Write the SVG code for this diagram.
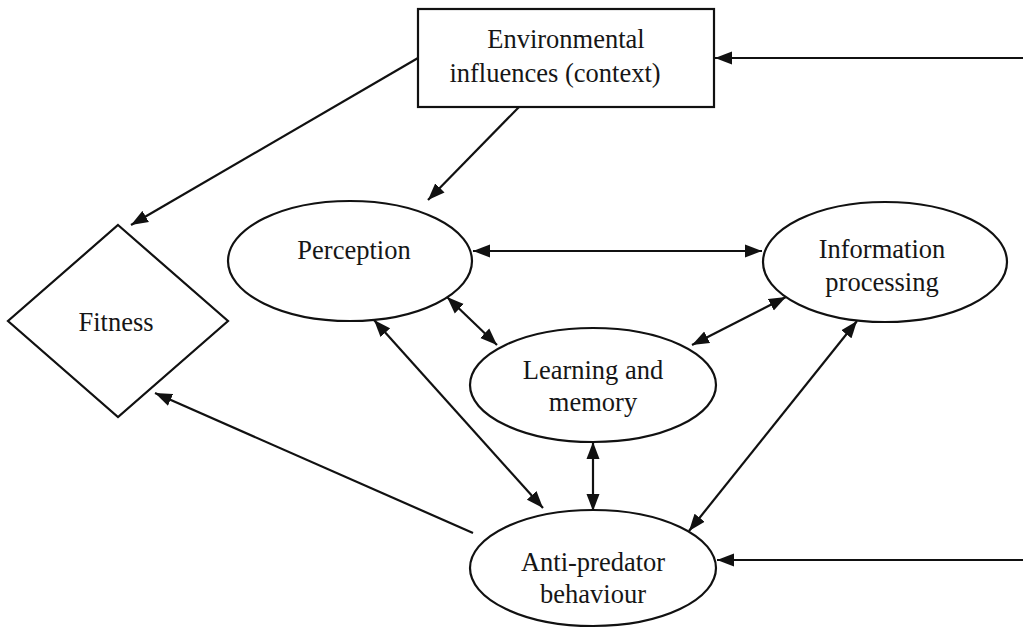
<svg xmlns="http://www.w3.org/2000/svg" width="1023" height="629" viewBox="0 0 1023 629">
<style>
.shape{fill:#fff;stroke:#111;stroke-width:2.2}
.lbl{font-family:"Liberation Serif","Times New Roman",serif;font-size:26.5px;fill:#161616;text-anchor:middle}
.con{stroke:#111;stroke-width:2.2;fill:none}
.one{marker-end:url(#ah)}
.two{marker-start:url(#ah);marker-end:url(#ah)}
</style>
<defs>
<marker id="ah" markerUnits="userSpaceOnUse" markerWidth="18" markerHeight="14" refX="17" refY="7" orient="auto-start-reverse">
<path d="M0,0.5 L17,7 L0,13.5 z" fill="#111"/>
</marker>
</defs>
<rect width="1023" height="629" fill="#fff"/>
<g id="connectors">
<path class="con one" d="M1023,58 L715,58"/>
<path class="con one" d="M1023,560 L717,560"/>
<path class="con one" d="M418,58 L131,225"/>
<path class="con one" d="M519,107 L428,200"/>
<path class="con two" d="M473,251 L762,251"/>
<path class="con two" d="M447,297 L497,345"/>
<path class="con two" d="M692,345 L786,297"/>
<path class="con two" d="M593,442 L593,511"/>
<path class="con two" d="M374,320 L543,508"/>
<path class="con two" d="M857,321 L689,531"/>
<path class="con one" d="M473,533 L155,393"/>
</g>
<g id="environment">
<rect class="shape" x="418" y="9" width="296" height="98"/>
<text class="lbl" x="566" y="48">Environmental</text>
<text class="lbl" x="555" y="82">influences (context)</text>
</g>
<g id="fitness">
<polygon class="shape" points="118,225 228,321 118,417 8,321"/>
<text class="lbl" x="116" y="331">Fitness</text>
</g>
<g id="perception">
<ellipse class="shape" cx="350" cy="261" rx="122" ry="60"/>
<text class="lbl" x="354" y="259">Perception</text>
</g>
<g id="information">
<ellipse class="shape" cx="885" cy="262" rx="122" ry="60"/>
<text class="lbl" x="882" y="258">Information</text>
<text class="lbl" x="882" y="291">processing</text>
</g>
<g id="learning">
<ellipse class="shape" cx="593" cy="385" rx="123" ry="57"/>
<text class="lbl" x="593" y="379">Learning and</text>
<text class="lbl" x="593" y="411">memory</text>
</g>
<g id="antipredator">
<ellipse class="shape" cx="593" cy="568" rx="123" ry="58"/>
<text class="lbl" x="593" y="571">Anti-predator</text>
<text class="lbl" x="593" y="603">behaviour</text>
</g>
</svg>
